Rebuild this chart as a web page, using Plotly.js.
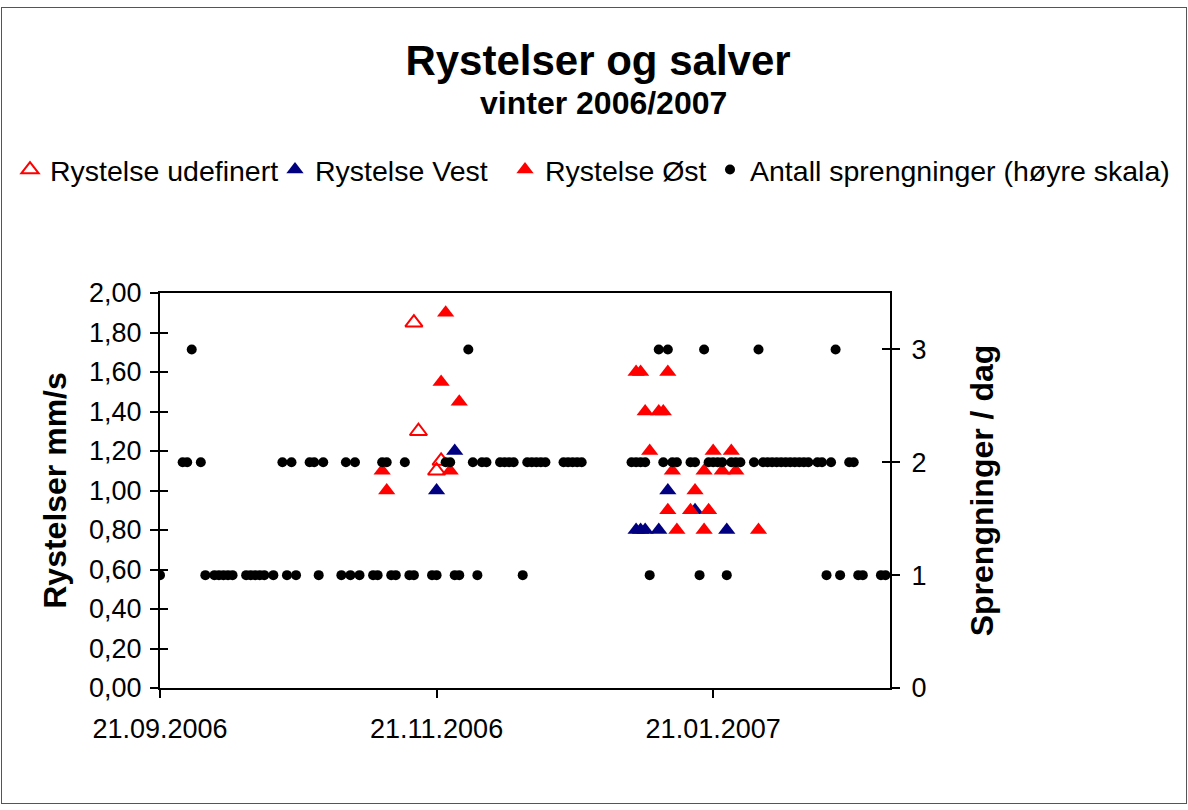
<!DOCTYPE html>
<html><head><meta charset="utf-8">
<script src="https://cdn.plot.ly/plotly-3.0.1.min.js"></script>
<style>
html,body{margin:0;padding:0;background:#fff;}
#wrap{position:relative;width:1188px;height:810px;}
#chart{width:1188px;height:810px;}
#frame{position:absolute;left:1px;top:7px;width:1184px;height:795px;border:1px solid #555;pointer-events:none;}
</style></head><body>
<div id="wrap"><div id="chart"></div><div id="frame"></div></div>
<script>
// ---- data ----
const udefinertDatoer = ['2006-11-16','2006-11-17','2006-11-21','2006-11-22'];
const udefinertVerdier = [1.85, 1.30, 1.10, 1.15];

const vestDatoer = ['2006-11-21','2006-11-25','2007-01-04','2007-01-05','2007-01-06','2007-01-09','2007-01-11','2007-01-17','2007-01-24'];
const vestVerdier = [1.00, 1.20, 0.80, 0.80, 0.80, 0.80, 1.00, 0.90, 0.80];

const ostDatoer = ['2006-11-09','2006-11-10','2006-11-22','2006-11-23','2006-11-24','2006-11-26',
  '2007-01-04','2007-01-05','2007-01-06','2007-01-07','2007-01-09','2007-01-10','2007-01-11','2007-01-11',
  '2007-01-12','2007-01-13','2007-01-16','2007-01-17','2007-01-19','2007-01-19','2007-01-20','2007-01-21',
  '2007-01-23','2007-01-25','2007-01-26','2007-01-31'];
const ostVerdier = [1.10, 1.00, 1.55, 1.90, 1.10, 1.45,
  1.60, 1.60, 1.40, 1.20, 1.40, 1.40, 1.60, 0.90,
  1.10, 0.80, 0.90, 1.00, 1.10, 0.80, 0.90, 1.20,
  1.10, 1.20, 1.10, 0.80];

// Antall sprengninger per dag (right axis), grouped by count
const datoerEn = ['2006-09-21','2006-10-01','2006-10-03','2006-10-04','2006-10-05','2006-10-06','2006-10-07',
  '2006-10-10','2006-10-11','2006-10-12','2006-10-13','2006-10-14','2006-10-16','2006-10-19','2006-10-21',
  '2006-10-26','2006-10-31','2006-11-02','2006-11-04','2006-11-07','2006-11-08','2006-11-11','2006-11-12',
  '2006-11-15','2006-11-16','2006-11-20','2006-11-21','2006-11-25','2006-11-26','2006-11-30','2006-12-10',
  '2007-01-07','2007-01-18','2007-01-24','2007-02-15','2007-02-18','2007-02-22','2007-02-23','2007-02-27','2007-02-28'];
const datoerTo = ['2006-09-26','2006-09-27','2006-09-30','2006-10-18','2006-10-20','2006-10-24','2006-10-25',
  '2006-10-27','2006-11-01','2006-11-03','2006-11-09','2006-11-10','2006-11-14','2006-11-23','2006-11-24',
  '2006-11-29','2006-12-01','2006-12-02','2006-12-05','2006-12-06','2006-12-07','2006-12-08','2006-12-11',
  '2006-12-12','2006-12-13','2006-12-14','2006-12-15','2006-12-19','2006-12-20','2006-12-21','2006-12-22',
  '2006-12-23','2007-01-03','2007-01-04','2007-01-05','2007-01-06','2007-01-10','2007-01-12','2007-01-13',
  '2007-01-16','2007-01-17','2007-01-20','2007-01-21','2007-01-22','2007-01-23','2007-01-25','2007-01-26',
  '2007-01-27','2007-01-30','2007-02-01','2007-02-02','2007-02-03','2007-02-04','2007-02-05','2007-02-06',
  '2007-02-07','2007-02-08','2007-02-09','2007-02-10','2007-02-11','2007-02-13','2007-02-14','2007-02-16',
  '2007-02-20','2007-02-21'];
const datoerTre = ['2006-09-28','2006-11-28','2007-01-09','2007-01-11','2007-01-19','2007-01-31','2007-02-17'];

const xTickVals = ['2006-09-21','2006-11-21','2007-01-21'];
const xTickText = ['21.09.2006','21.11.2006','21.01.2007'];
const yTickVals = [0,0.2,0.4,0.6,0.8,1.0,1.2,1.4,1.6,1.8,2.0];
const y2TickVals = [0,1,2,3];

// ---- build ----
const antallX = datoerEn.concat(datoerTo, datoerTre);
const antallY = datoerEn.map(()=>1).concat(datoerTo.map(()=>2), datoerTre.map(()=>3));

const F = 'Liberation Sans, Arial, sans-serif';
const traces = [
  {name:'Rystelse udefinert', legend:'legend', x:udefinertDatoer, y:udefinertVerdier, type:'scatter', mode:'markers',
   marker:{symbol:'triangle-up-open', size:15, color:'#FF0000', line:{width:2, color:'#FF0000'}}},
  {name:'Rystelse Vest', legend:'legend2', x:vestDatoer, y:vestVerdier, type:'scatter', mode:'markers',
   marker:{symbol:'triangle-up', size:15, color:'#000080'}},
  {name:'Rystelse Øst', legend:'legend3', x:ostDatoer, y:ostVerdier, type:'scatter', mode:'markers',
   marker:{symbol:'triangle-up', size:15, color:'#FF0000'}},
  {name:'Antall sprengninger (høyre skala)', legend:'legend4', x:antallX, y:antallY, yaxis:'y2', type:'scatter', mode:'markers',
   marker:{symbol:'circle', size:10, color:'#000000'}},
  {x:[], y:[], yaxis:'y3', type:'scatter', mode:'markers', showlegend:false, hoverinfo:'skip'},
  {x:[], y:[], yaxis:'y4', type:'scatter', mode:'markers', showlegend:false, hoverinfo:'skip'}
];

const axBase = {showline:true, linewidth:2, linecolor:'#000', ticks:'outside', ticklen:8, tickwidth:2,
  tickcolor:'#000', showgrid:false, zeroline:false, tickfont:{size:27, family:F, color:'#000'}, automargin:false};

function leg(px) {
  return {orientation:'h', xref:'container', yref:'container', x:px/1188, xanchor:'left', y:1-170/810, yanchor:'middle',
    font:{family:F, size:28.5, color:'#000'}, itemwidth:30, bgcolor:'rgba(0,0,0,0)'};
}

const layout = {
  width:1188, height:810,
  margin:{l:160, r:298, t:293, b:122},
  paper_bgcolor:'#fff', plot_bgcolor:'#fff',
  separators:', ',
  hovermode:false,
  font:{family:F, color:'#000'},
  showlegend:true,
  title:{text:'Rystelser og salver', font:{family:F, size:42, weight:'bold', color:'#000'},
    xref:'container', x:598/1188, xanchor:'center', yref:'container', y:1-60/810, yanchor:'middle'},
  annotations:[{text:'vinter 2006/2007', xref:'paper', yref:'paper', x:(603-160)/730, y:(688-103)/395,
    showarrow:false, xanchor:'center', yanchor:'middle', font:{family:F, size:32, weight:'bold', color:'#000'}}],
  legend:leg(10), legend2:leg(275), legend3:leg(505), legend4:leg(710),
  xaxis:Object.assign({}, axBase, {type:'date', range:['2006-09-21','2007-03-01'], tickmode:'array',
    tickvals:xTickVals, ticktext:xTickText, mirror:true, ticklabelstandoff:8}),
  yaxis:Object.assign({}, axBase, {range:[0,2], tickmode:'array', tickvals:yTickVals, tickformat:'.2f', mirror:true,
    ticklabelstandoff:3,
    title:{text:'Rystelser mm/s', font:{family:F, size:32, weight:'bold', color:'#000'}, standoff:13}}),
  yaxis2:Object.assign({}, axBase, {overlaying:'y', side:'right', range:[0,3.5], tickmode:'array', tickvals:y2TickVals,
    ticklabelstandoff:6,
    title:{text:'Sprengninger / dag', font:{family:F, size:32, weight:'bold', color:'#000'}, standoff:45}}),
  yaxis3:{overlaying:'y', side:'left', range:[0,2], tickmode:'array', tickvals:yTickVals, ticks:'inside', ticklen:8,
    tickwidth:2, tickcolor:'#000', showticklabels:false, showline:false, showgrid:false, zeroline:false},
  yaxis4:{overlaying:'y', side:'right', range:[0,3.5], tickmode:'array', tickvals:y2TickVals, ticks:'inside', ticklen:8,
    tickwidth:2, tickcolor:'#000', showticklabels:false, showline:false, showgrid:false, zeroline:false}
};

Plotly.newPlot('chart', traces, layout, {displayModeBar:false, staticPlot:true});
</script>
</body></html>
